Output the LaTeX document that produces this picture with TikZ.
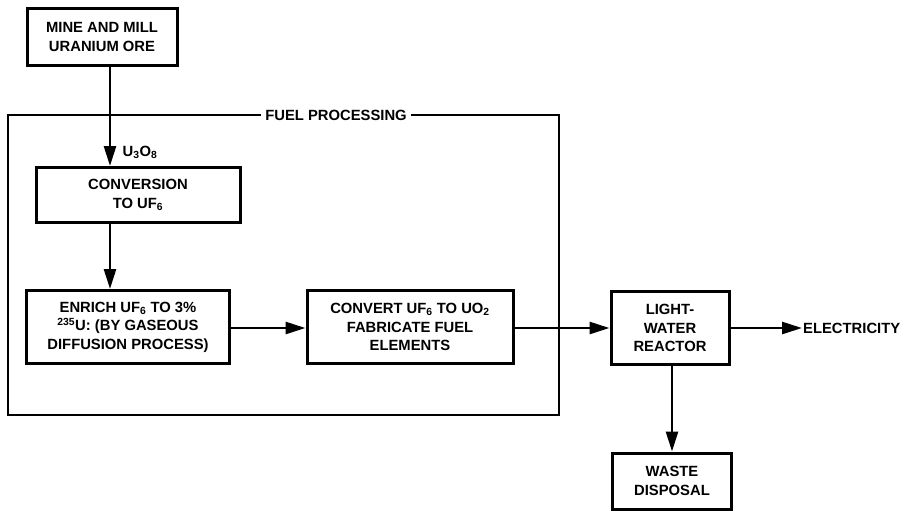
\documentclass[tikz,border=0pt]{standalone}
\usepackage{fontspec}
\setmainfont{Liberation Sans}
\usetikzlibrary{arrows.meta}
\begin{document}
\begin{tikzpicture}[x=1pt,y=-1pt,
    stepbox/.style={draw,line width=3pt,align=center,inner sep=0pt},
    arr/.style={line width=2.6pt,-{Triangle[length=20pt,width=12pt]}},
    font=\fontsize{14.8}{18.5}\selectfont\bfseries]
        % Page size of the reference
        \useasboundingbox (0,0) rectangle (907,512);

        % Mining, outside the processing frame
        \node[stepbox,minimum width=150pt,minimum height=57pt] (mine) at (102,37) {MINE AND MILL\\URANIUM ORE};

        % Fuel processing frame with its title
        \node[inner sep=4pt] (fuel) at (336,115) {FUEL PROCESSING};
        \draw[line width=2.4pt] (fuel.west) -- (8,115) -- (8,415) -- (559,415) -- (559,115) -- (fuel.east);

        % Steps inside the frame
        \node[stepbox,minimum width=204pt,minimum height=55pt] (conv) at (138,195) {CONVERSION\\TO UF\textsubscript{6}};
        \node[stepbox,minimum width=203pt,minimum height=73pt] (enrich) at (128,327) {ENRICH UF\textsubscript{6} TO 3\%\\\textsuperscript{235}U: (BY GASEOUS\\DIFFUSION PROCESS)};
        \node[stepbox,minimum width=206pt,minimum height=73pt] (fab) at (410,327) {CONVERT UF\textsubscript{6} TO UO\textsubscript{2}\\FABRICATE FUEL\\ELEMENTS};

        % Reactor and what comes out of it
        \node[stepbox,minimum width=118pt,minimum height=73pt] (lwr) at (670,328) {LIGHT-\\WATER\\REACTOR};
        \node[stepbox,minimum width=119pt,minimum height=56pt] (waste) at (672,481) {WASTE\\DISPOSAL};
        \node[anchor=west,inner sep=1pt] (elec) at (802,328) {ELECTRICITY};

        % Connectors
        \draw[arr] (110,0 |- mine.south) -- (110,0 |- conv.north)
            node[pos=0.86,anchor=west,xshift=8pt] (uox) {U\textsubscript{3}O\textsubscript{8}};
        \draw[arr] (110,0 |- conv.south) -- (110,0 |- enrich.north);
        \draw[arr] (enrich.east |- 0,328) -- (fab.west |- 0,328);
        \draw[arr] (fab.east |- 0,328) -- (lwr.west |- 0,328);
        \draw[arr] (lwr.east) -- (elec.west);
        \draw[arr] (672,0 |- lwr.south) -- (672,0 |- waste.north);
    \end{tikzpicture}
\end{document}
